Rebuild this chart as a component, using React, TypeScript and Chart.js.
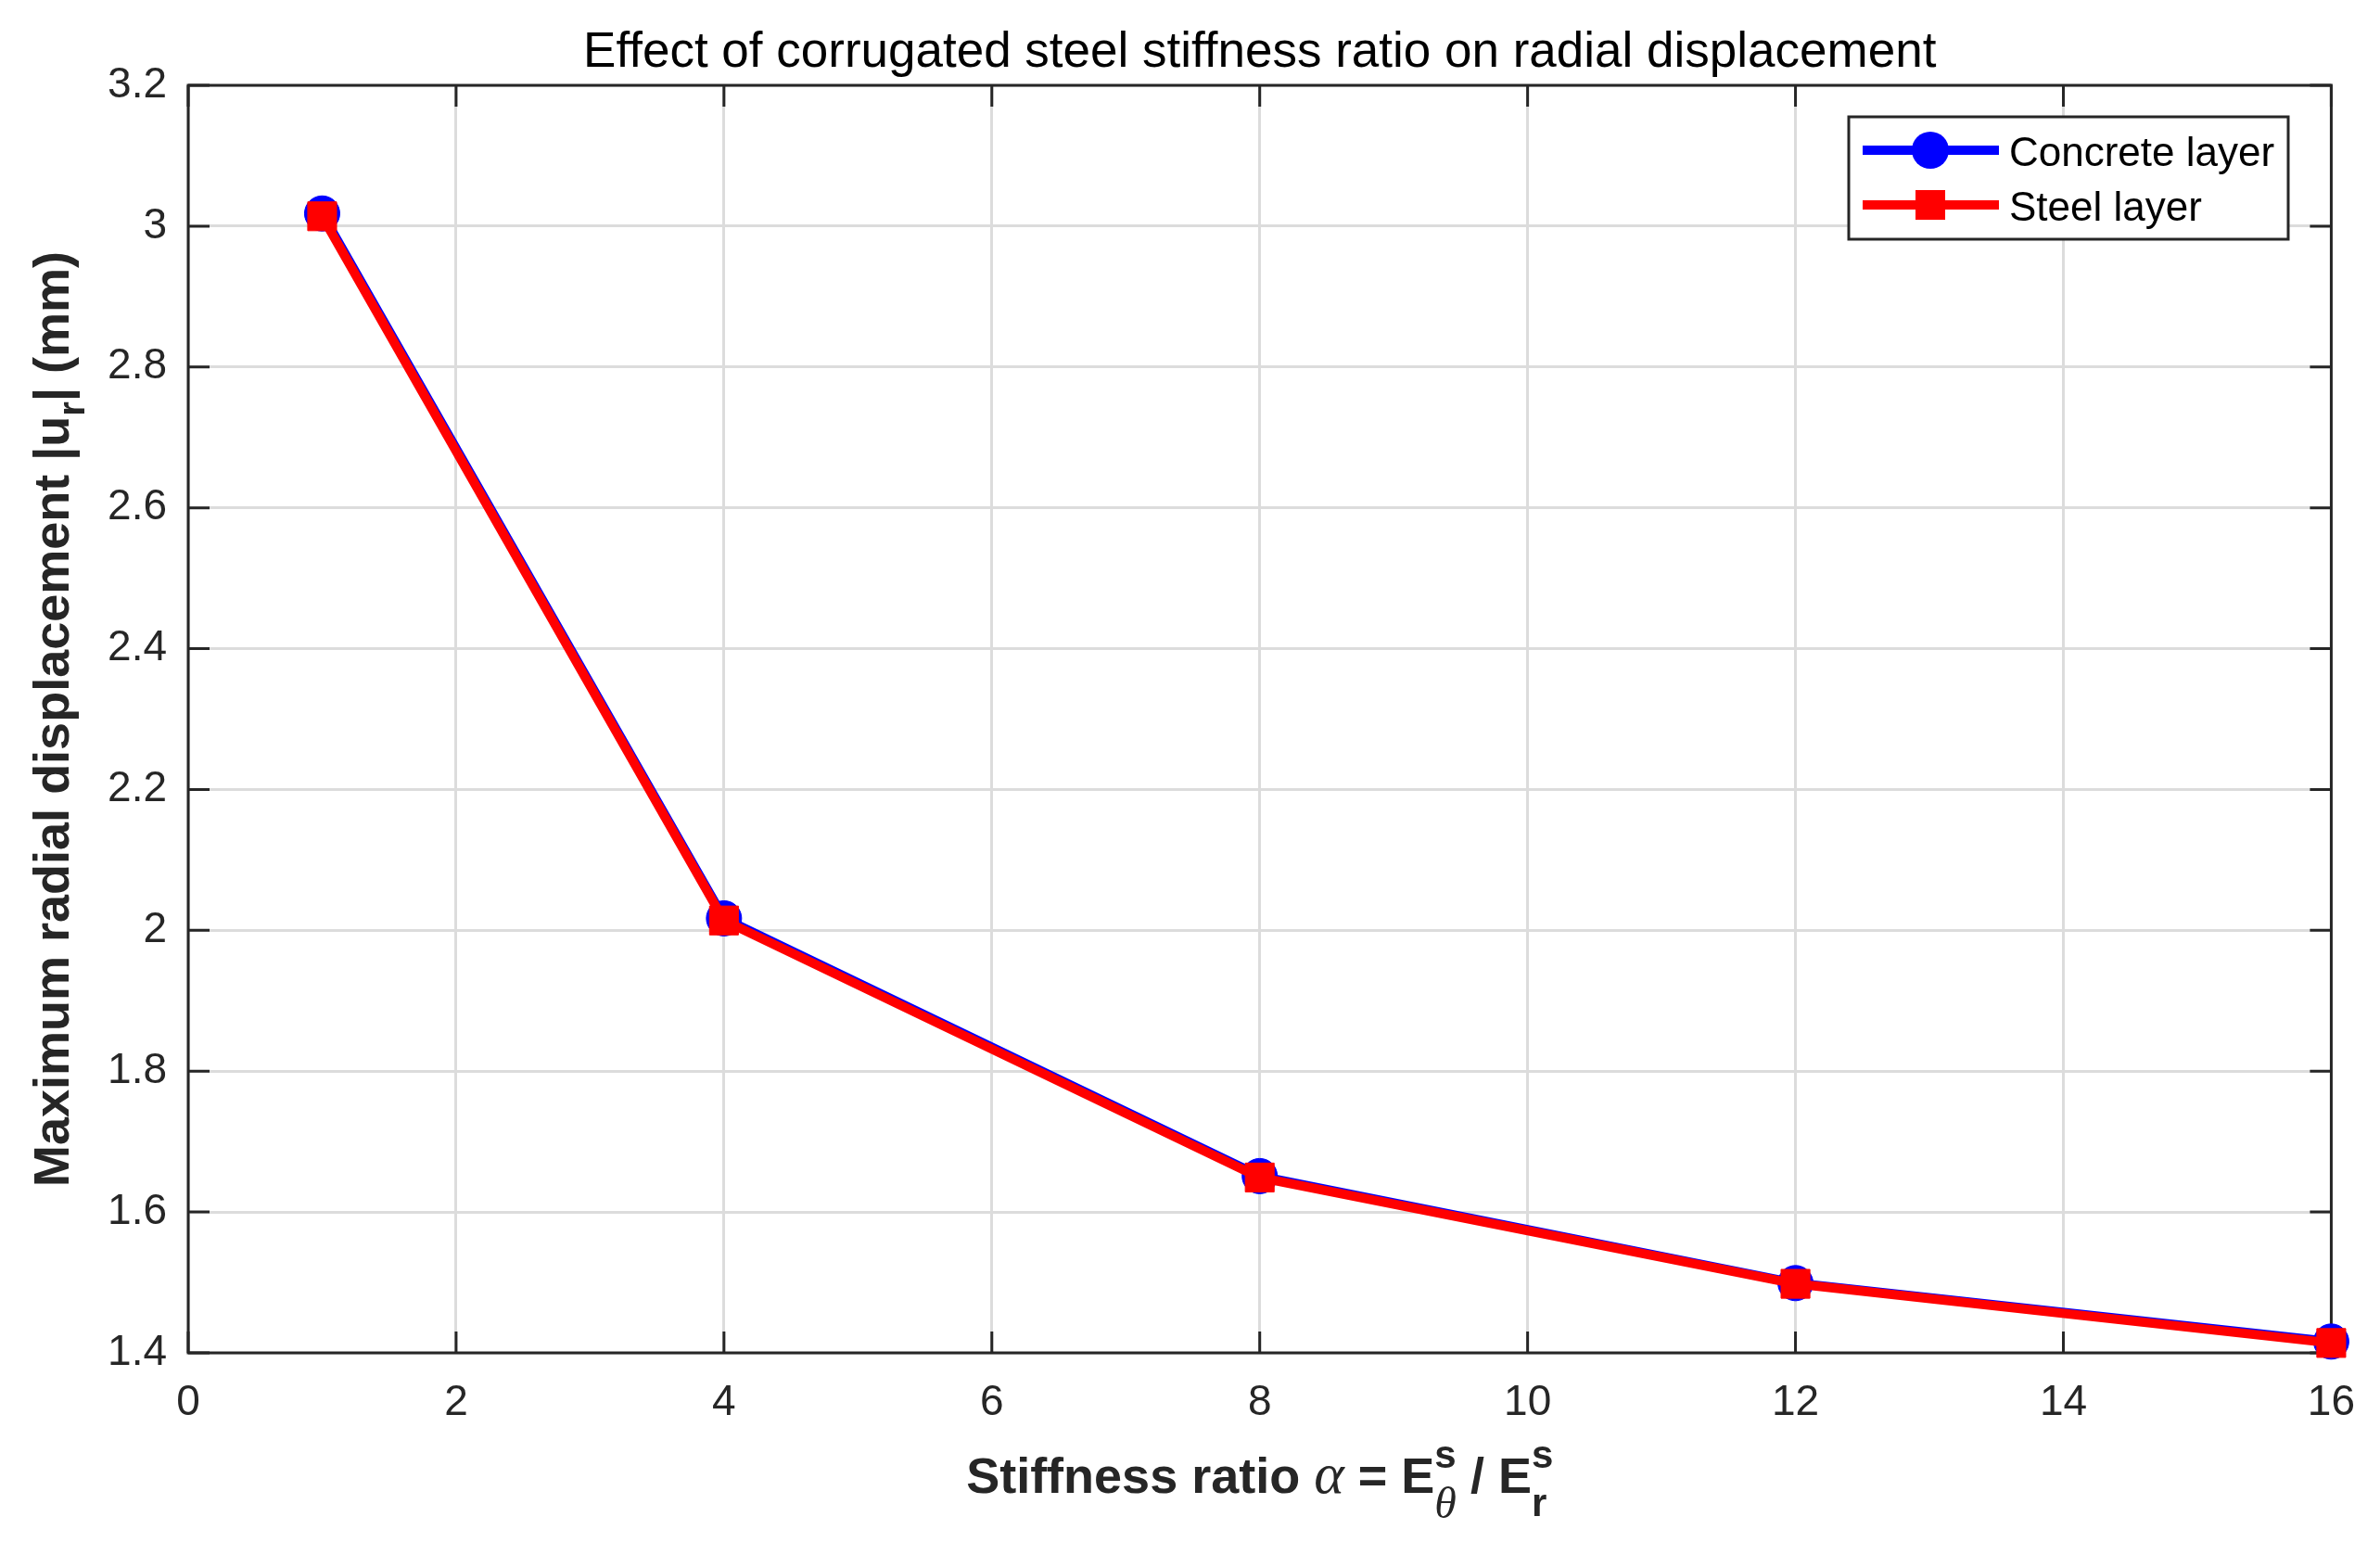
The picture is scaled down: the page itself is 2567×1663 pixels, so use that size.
import { useEffect, useRef } from 'react';
import { Chart, registerables } from 'chart.js';

Chart.register(...registerables);

// ============= DATA =============
const stiffnessRatio = [1, 4, 8, 12, 16];
const concreteDisp = [3.018, 2.017, 1.651, 1.499, 1.416];
const steelDisp = [3.014, 2.014, 1.649, 1.498, 1.414];
const seriesNames = ['Concrete layer', 'Steel layer'];
const xTicks = [0, 2, 4, 6, 8, 10, 12, 14, 16];
const yTicks = [1.4, 1.6, 1.8, 2, 2.2, 2.4, 2.6, 2.8, 3, 3.2];

const W = 2567;
const H = 1663;
const FONT = 'Arial, "Liberation Sans", sans-serif';
const SERIF = '"Liberation Serif", "Times New Roman", serif';
const AXIS_COLOR = '#262626';

type Piece =
    | { text: string; font: string; dy?: number }
    | { sup: string; sub: string; supFont: string; subFont: string; supDy: number; subDy: number };

const pieceWidth = (ctx: CanvasRenderingContext2D, p: Piece) => {
    if ('text' in p) {
        ctx.font = p.font;
        return ctx.measureText(p.text).width;
    }
    ctx.font = p.supFont;
    const a = ctx.measureText(p.sup).width;
    ctx.font = p.subFont;
    const b = ctx.measureText(p.sub).width;
    return Math.max(a, b);
};

// draws mixed text (sub/superscripts) centred on cx, baseline at y
const drawRich = (ctx: CanvasRenderingContext2D, pieces: Piece[], cx: number, y: number) => {
    const widths = pieces.map(p => pieceWidth(ctx, p));
    const total = widths.reduce((a, b) => a + b, 0);
    let x = cx - total / 2;
    ctx.textAlign = 'left';
    ctx.textBaseline = 'alphabetic';
    pieces.forEach((p, i) => {
        if ('text' in p) {
            ctx.font = p.font;
            ctx.fillText(p.text, x, y + (p.dy || 0));
        } else {
            ctx.font = p.supFont;
            ctx.fillText(p.sup, x, y + p.supDy);
            ctx.font = p.subFont;
            ctx.fillText(p.sub, x, y + p.subDy);
        }
        x += widths[i];
    });
};

const bold = `bold 54px ${FONT}`;
const yLabel: Piece[] = [
    { text: 'Maximum radial displacement |u', font: bold },
    { text: 'r', font: `bold 40px ${FONT}`, dy: 17 },
    { text: '| (mm)', font: bold },
];
const xLabel: Piece[] = [
    { text: 'Stiffness ratio ', font: bold },
    { text: 'α', font: `italic 62px ${SERIF}` },
    { text: ' = E', font: bold },
    { sup: 's', sub: 'θ', supFont: `bold 42px ${FONT}`, subFont: `italic 48px ${SERIF}`, supDy: -27, subDy: 27 },
    { text: ' / E', font: bold },
    { sup: 's', sub: 'r', supFont: `bold 42px ${FONT}`, subFont: `bold 42px ${FONT}`, supDy: -27, subDy: 25 },
];

// ============= PLUGIN: box, inward ticks, labels, legend =============
const matlabDecor = {
    id: 'matlabDecor',
    beforeDatasetsDraw(chart: Chart) {
        const { ctx, chartArea: a, scales } = chart;
        const tl = 23;
        ctx.save();
        ctx.strokeStyle = AXIS_COLOR;
        ctx.lineWidth = 3;
        ctx.strokeRect(a.left, a.top, a.right - a.left, a.bottom - a.top);
        ctx.beginPath();
        xTicks.forEach(v => {
            const px = scales.x.getPixelForValue(v);
            ctx.moveTo(px, a.bottom);
            ctx.lineTo(px, a.bottom - tl);
            ctx.moveTo(px, a.top);
            ctx.lineTo(px, a.top + tl);
        });
        yTicks.forEach(v => {
            const py = scales.y.getPixelForValue(v);
            ctx.moveTo(a.left, py);
            ctx.lineTo(a.left + tl, py);
            ctx.moveTo(a.right, py);
            ctx.lineTo(a.right - tl, py);
        });
        ctx.stroke();
        ctx.restore();
    },
    afterDraw(chart: Chart) {
        const { ctx, chartArea: a } = chart;
        ctx.save();

        // title
        ctx.fillStyle = '#000000';
        ctx.font = `53px ${FONT}`;
        ctx.textAlign = 'center';
        ctx.textBaseline = 'alphabetic';
        ctx.fillText('Effect of corrugated steel stiffness ratio on radial displacement', (a.left + a.right) / 2, 72);

        // axis labels
        ctx.fillStyle = AXIS_COLOR;
        drawRich(ctx, xLabel, (a.left + a.right) / 2, 1610);
        ctx.save();
        ctx.translate(74, (a.top + a.bottom) / 2);
        ctx.rotate(-Math.PI / 2);
        drawRich(ctx, yLabel, 0, 0);
        ctx.restore();

        // legend
        const bx = 1994, by = 126, bw = 474, bh = 132;
        ctx.fillStyle = '#ffffff';
        ctx.fillRect(bx, by, bw, bh);
        ctx.strokeStyle = AXIS_COLOR;
        ctx.lineWidth = 3;
        ctx.strokeRect(bx, by, bw, bh);
        const rows = [162, 221];
        chart.data.datasets.forEach((ds: any, i: number) => {
            const ry = rows[i];
            ctx.strokeStyle = ds.borderColor;
            ctx.lineWidth = ds.borderWidth;
            ctx.beginPath();
            ctx.moveTo(2009, ry);
            ctx.lineTo(2156, ry);
            ctx.stroke();
            ctx.fillStyle = ds.backgroundColor;
            if (ds.pointStyle === 'circle') {
                ctx.beginPath();
                ctx.arc(2082, ry, 20, 0, Math.PI * 2);
                ctx.fill();
            } else {
                ctx.fillRect(2082 - 16, ry - 16, 32, 32);
            }
            ctx.fillStyle = '#000000';
            ctx.font = `44px ${FONT}`;
            ctx.textAlign = 'left';
            ctx.fillText(ds.label, 2167, ry + 17);
        });
        ctx.restore();
    },
};

// ============= CHART COMPONENT =============
const DisplacementChart = () => {
    const chartRef = useRef<HTMLCanvasElement>(null);
    const chartInstance = useRef<Chart | null>(null);

    useEffect(() => {
        document.body.style.margin = '0';
        if (!chartRef.current) return;
        if (chartInstance.current) chartInstance.current.destroy();
        const ctx = chartRef.current.getContext('2d');
        if (!ctx) return;

        chartInstance.current = new Chart(ctx, {
            type: 'line',
            data: {
                datasets: [
                    {
                        label: seriesNames[0],
                        data: stiffnessRatio.map((x, i) => ({ x, y: concreteDisp[i] })),
                        borderColor: '#0000ff',
                        backgroundColor: '#0000ff',
                        borderWidth: 10,
                        pointStyle: 'circle',
                        pointRadius: 19,
                        pointBorderWidth: 1,
                        tension: 0,
                        clip: false,
                        order: 1,
                    },
                    {
                        label: seriesNames[1],
                        data: stiffnessRatio.map((x, i) => ({ x, y: steelDisp[i] })),
                        borderColor: '#ff0000',
                        backgroundColor: '#ff0000',
                        borderWidth: 10,
                        pointStyle: 'rect',
                        pointRadius: 22,
                        pointBorderWidth: 1,
                        tension: 0,
                        clip: false,
                        order: 0,
                    },
                ],
            },
            options: {
                responsive: false,
                animation: false,
                layout: { padding: { top: 92, right: W - 2519, left: 0, bottom: 0 } },
                plugins: {
                    legend: { display: false },
                    title: { display: false },
                    tooltip: { enabled: false },
                },
                scales: {
                    x: {
                        type: 'linear',
                        min: 0,
                        max: 16,
                        afterBuildTicks: (s: any) => { s.ticks = xTicks.map(value => ({ value })); },
                        afterFit: (s: any) => { s.height = H - 1459; },
                        ticks: {
                            autoSkip: false,
                            maxRotation: 0,
                            padding: 27,
                            color: AXIS_COLOR,
                            font: { family: FONT, size: 46 },
                        },
                        grid: { color: '#dcdcdc', lineWidth: 3, drawTicks: false },
                        border: { display: false },
                    },
                    y: {
                        type: 'linear',
                        min: 1.4,
                        max: 3.2,
                        afterBuildTicks: (s: any) => { s.ticks = yTicks.map(value => ({ value })); },
                        afterFit: (s: any) => { s.width = 203; },
                        ticks: {
                            autoSkip: false,
                            padding: 23,
                            color: AXIS_COLOR,
                            font: { family: FONT, size: 46 },
                            callback: (v: any) => String(Number(Number(v).toFixed(1))),
                        },
                        grid: { color: '#dcdcdc', lineWidth: 3, drawTicks: false },
                        border: { display: false },
                    },
                },
            },
            plugins: [matlabDecor],
        } as any);

        return () => {
            if (chartInstance.current) {
                chartInstance.current.destroy();
                chartInstance.current = null;
            }
        };
    }, []);

    return (
        <div style={{ width: W, height: H, background: '#ffffff' }}>
            <canvas ref={chartRef} width={W} height={H} style={{ width: W, height: H }}></canvas>
        </div>
    );
};

export default function App() {
    return <DisplacementChart />;
}
